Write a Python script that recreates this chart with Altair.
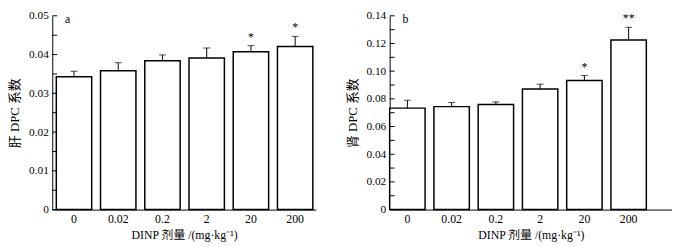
import altair as alt
import pandas as pd

doses = ["0", "0.02", "0.2", "2", "20", "200"]

liver_vals = [0.0343, 0.0358, 0.0384, 0.0391, 0.0407, 0.0421]
liver_err = [0.0357, 0.0379, 0.0399, 0.0417, 0.0423, 0.0447]
liver_star = ["", "", "", "", "*", "*"]
liver_ticks = [0, 0.005, 0.01, 0.015, 0.02, 0.025, 0.03, 0.035, 0.04, 0.045, 0.05]
liver_labels = [0, 0.01, 0.02, 0.03, 0.04, 0.05]

kidney_vals = [0.0733, 0.0744, 0.0760, 0.0872, 0.0932, 0.1226]
kidney_err = [0.0790, 0.0774, 0.0778, 0.0906, 0.0969, 0.1317]
kidney_star = ["", "", "", "", "*", "**"]
kidney_ticks = [0, 0.01, 0.02, 0.03, 0.04, 0.05, 0.06, 0.07, 0.08, 0.09, 0.10, 0.11, 0.12, 0.13, 0.14]
kidney_labels = [0, 0.02, 0.04, 0.06, 0.08, 0.10, 0.12, 0.14]

SERIF = "Liberation Serif, Noto Sans CJK SC"
XTITLE = "DINP 剂量 /(mg·kg⁻¹)"


def panel(vals, errs, stars, ticks, labels, ymax, letter, ytitle, width, po, al):
    df = pd.DataFrame({"dose": doses, "val": vals, "err": errs, "star": stars})
    tdf = pd.DataFrame({"val": ticks})
    xs = alt.Scale(domain=doses, paddingInner=0.2, paddingOuter=po, align=al)
    ys = alt.Scale(domain=[0, ymax], nice=False, zero=True)
    xax = alt.Axis(title=XTITLE, labelAngle=0, ticks=False, domainColor="black",
                   labelFont=SERIF, labelFontSize=12, labelColor="black",
                   titleFont=SERIF, titleFontSize=12, titleFontWeight="normal",
                   titleColor="black", labelPadding=4, titlePadding=5)
    yax = alt.Axis(title=ytitle, values=labels, ticks=False, domainColor="black",
                   labelExpr="datum.value == 0 ? '0' : format(datum.value, '.2f')",
                   labelFont=SERIF, labelFontSize=11.5, labelColor="black",
                   labelPadding=4, grid=False,
                   titleFont=SERIF, titleFontSize=13, titleFontWeight="normal",
                   titleColor="black", titlePadding=7)
    x = alt.X("dose:N", sort=doses, scale=xs, axis=xax)
    base = alt.Chart(df)
    bars = base.mark_bar(fill="white", stroke="black", strokeWidth=1.5).encode(
        x=x, y=alt.Y("val:Q", scale=ys, axis=yax),
    )
    err_line = base.mark_rule(color="black", strokeWidth=1).encode(
        x=x, y=alt.Y("val:Q", scale=ys, axis=yax), y2="err:Q",
    )
    cap = base.mark_tick(color="black", thickness=1, size=7).encode(
        x=x, y=alt.Y("err:Q", scale=ys, axis=yax),
    )
    star = base.mark_text(font=SERIF, fontSize=12, dy=-2, baseline="bottom",
                          fill="black", color="black").encode(
        x=x, y=alt.Y("err:Q", scale=ys, axis=yax), text="star:N",
    )
    tk = alt.Chart(tdf).mark_rule(color="black", strokeWidth=1).encode(
        y=alt.Y("val:Q", scale=ys, axis=yax),
        x=alt.value(0),
        x2=alt.value(5),
    )
    lab = alt.Chart(pd.DataFrame({"l": [letter]})).mark_text(
        font=SERIF, fontSize=12, align="left", baseline="middle", fill="black"
    ).encode(text="l:N", x=alt.value(13), y=alt.value(3))
    return alt.layer(bars, err_line, cap, star, tk, lab).properties(width=width, height=197)


left = panel(liver_vals, liver_err, liver_star, liver_ticks, liver_labels, 0.05, "a",
             "肝 DPC 系数", 268, 0.08, 0.57)
right = panel(kidney_vals, kidney_err, kidney_star, kidney_ticks, kidney_labels, 0.14, "b",
              "肾 DPC 系数", 287, 0.29, 0.0)

chart = alt.hconcat(left, right, spacing=30).configure_view(stroke=None).properties(
    padding={"left": 0, "top": 0, "right": 0, "bottom": 0}
).resolve_scale(x="independent", y="independent")

chart.save("out.html", embed_options={"renderer": "svg", "actions": False})
